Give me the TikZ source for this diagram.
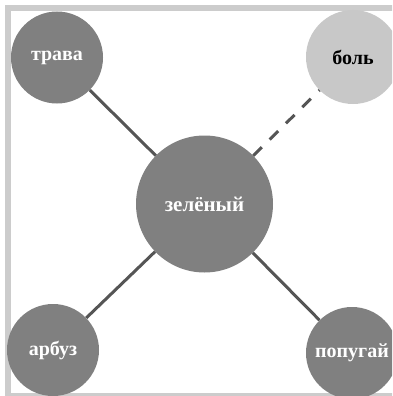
\documentclass[tikz,border=0pt]{standalone}
\usepackage{fontspec}
\setmainfont{Liberation Serif}
\definecolor{darkc}{HTML}{808080}
\definecolor{lightc}{HTML}{C8C8C8}
\definecolor{linec}{HTML}{555555}
\definecolor{framec}{HTML}{CCCCCC}
\begin{document}
\begin{tikzpicture}[x=1pt,y=-1pt,
  bubble/.style={circle,fill=darkc,text=white,font=\bfseries\fontsize{20}{20}\selectfont,inner sep=0pt},
  bigbubble/.style={bubble,font=\bfseries\fontsize{21}{21}\selectfont},
  palebubble/.style={bubble,fill=lightc,text=black},
  link/.style={draw=linec,line width=3pt},
  weaklink/.style={link,dash pattern=on 12pt off 11pt}]
\useasboundingbox (0,0) rectangle (392,396);
\begin{scope}
\clip (0,0) rectangle (392,396);
\draw[framec,line width=6pt] (8,8) rectangle (398,396);
\node[bigbubble,minimum size=137pt] (c) at (204.5,204) {зелёный};
\node[bubble,minimum size=92pt] (t) at (57,57.5) {трава};
\node[palebubble,minimum size=94pt] (b) at (353,57) {боль};
\node[bubble,minimum size=92pt] (a) at (53,350) {арбуз};
\node[bubble,minimum size=92pt] (p) at (352,353) {попугай};
\draw[link] (c) -- (t);
\draw[link] (c) -- (a);
\draw[link] (c) -- (p);
\draw[weaklink] (c) -- (b);
\end{scope}
\end{tikzpicture}
\end{document}
